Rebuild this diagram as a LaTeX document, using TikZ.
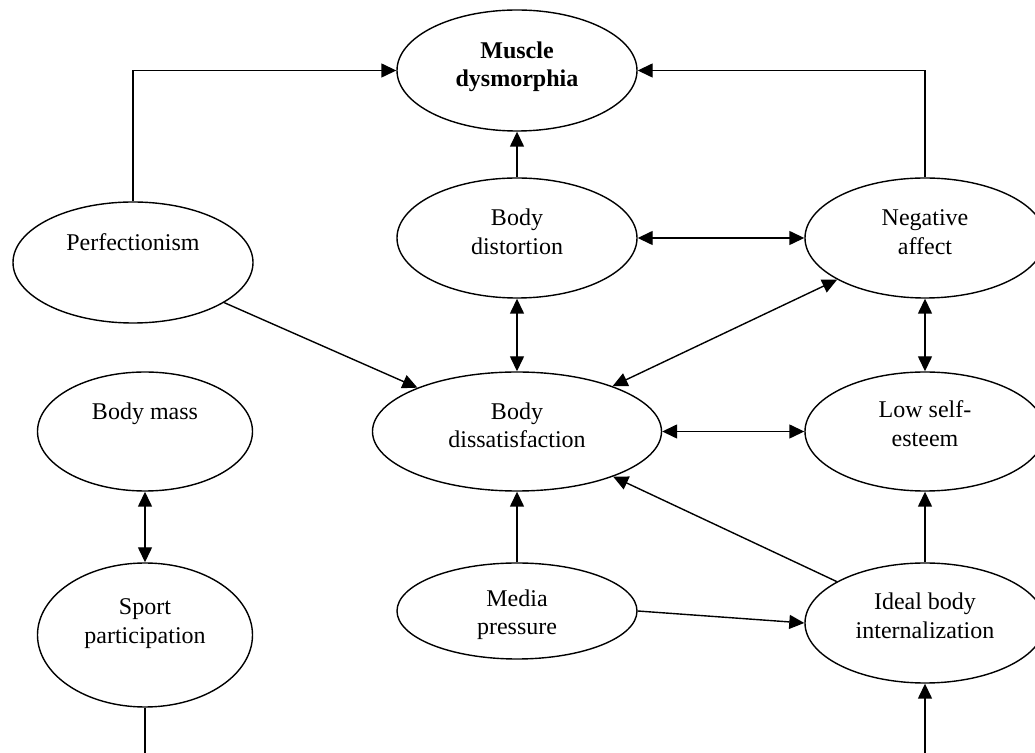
\documentclass[tikz,border=0pt]{standalone}
\usepackage{fontspec}
\setmainfont{Liberation Serif}
\usetikzlibrary{arrows.meta,shapes.geometric}
% stacked lines inside an oval, baseline at the first line
\newcommand\ovaltext[1]{\begin{tabular}[t]{@{}c@{}}#1\end{tabular}}
\begin{document}
\begin{tikzpicture}[x=0.5pt,y=-0.5pt,
  oval/.style={draw, ellipse, line width=0.7pt, inner sep=0pt,
    text height=0pt, text depth=12pt,
    font=\fontsize{12}{14.2}\selectfont},
  tip/.style={Triangle[length=7.5pt,width=7pt]},
  link/.style={line width=0.7pt, -{Triangle[length=7.5pt,width=7pt]}},
  mutual/.style={line width=0.7pt, {Triangle[length=7.5pt,width=7pt]}-{Triangle[length=7.5pt,width=7pt]}},
  plain/.style={line width=0.7pt}]
\useasboundingbox (0,0) rectangle (1035,753);

% constructs
\node[oval, minimum width=120pt, minimum height=60.5pt,
      font=\fontsize{12}{14.2}\selectfont\bfseries]
  (md) at (517,70.5) {\ovaltext{Muscle\\dysmorphia}};
\node[oval, minimum width=120pt, minimum height=60pt]
  (bd) at (517,238) {\ovaltext{Body\\distortion}};
\node[oval, minimum width=120pt, minimum height=60pt]
  (na) at (925,238) {\ovaltext{Negative\\affect}};
\node[oval, minimum width=120pt, minimum height=60.5pt]
  (perf) at (133,262.5) {\ovaltext{Perfectionism}};
\node[oval, minimum width=144.5pt, minimum height=59.5pt]
  (bdis) at (517,431.5) {\ovaltext{Body\\dissatisfaction}};
\node[oval, minimum width=120pt, minimum height=59.5pt, text depth=13.5pt]
  (lse) at (925,431.5) {\ovaltext{Low self-\\esteem}};
\node[oval, minimum width=107.5pt, minimum height=59.5pt]
  (bm) at (145,431.5) {\ovaltext{Body mass}};
\node[oval, minimum width=107.5pt, minimum height=72pt, text depth=20pt]
  (sp) at (145,635) {\ovaltext{Sport\\participation}};
\node[oval, minimum width=120pt, minimum height=48pt, text depth=4.5pt]
  (mp) at (517,611) {\ovaltext{Media\\pressure}};
\node[oval, minimum width=120pt, minimum height=60pt, text depth=13pt]
  (ibi) at (925,623) {\ovaltext{Ideal body\\internalization}};

% free ends running off the lower edge
\coordinate (spout) at (145,753);
\coordinate (ibiin) at (925,753);

% paths
\draw[link] (perf.north) |- (md.west);
\draw[link] (na.north) |- (md.east);
\draw[link] (bd.north) -- (md.south);
\draw[mutual] (bd.east) -- (na.west);
\draw[mutual] (bd.south) -- (bdis.north);
\draw[mutual] (na.south) -- (lse.north);
\draw[mutual] (bdis.east) -- (lse.west);
\draw[mutual] (bdis) -- (na);
\draw[link] (perf) -- (bdis);
\draw[link] (mp.north) -- (bdis.south);
\draw[link] (mp.east) -- (ibi.west);
\draw[link] (ibi) -- (bdis);
\draw[link] (ibi.north) -- (lse.south);
\draw[link] (ibiin) -- (ibi.south);
\draw[mutual] (bm.south) -- (sp.north);
\draw[plain] (sp.south) -- (spout);
\end{tikzpicture}
\end{document}
